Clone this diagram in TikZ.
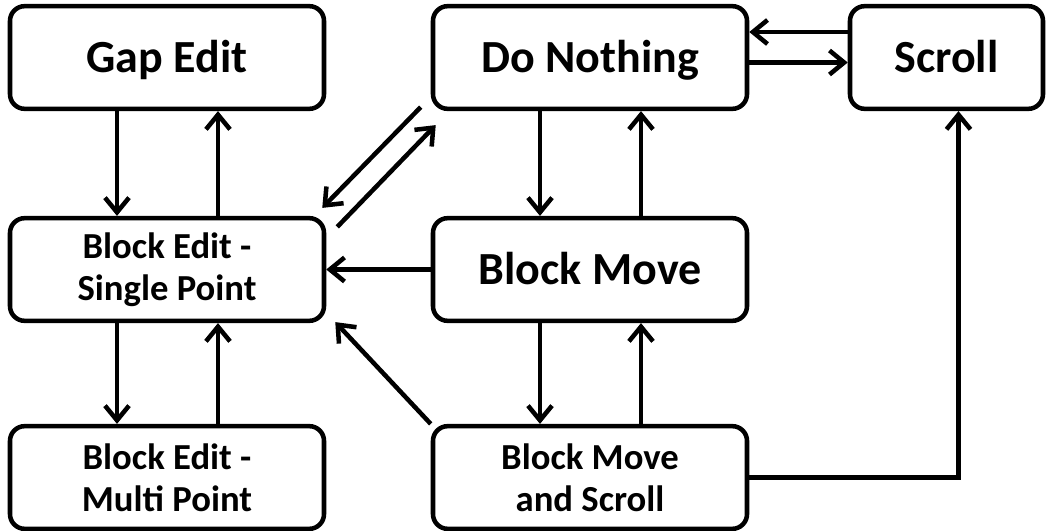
\documentclass[tikz,border=0pt]{standalone}
\usepackage{fontspec}
\setmainfont{Carlito}
\usetikzlibrary{arrows.meta,calc}
\begin{document}
\begin{tikzpicture}[x=0.75pt,y=-0.75pt,
  box/.style={draw, line width=3.4pt, rounded corners=11pt, minimum width=235.5pt, minimum height=77pt, inner sep=0pt, align=center, font=\bfseries\fontsize{34.5}{40}\selectfont},
  one/.style={text height=22pt, text depth=0pt},
  small/.style={font=\bfseries\fontsize{27.5}{31.5}\selectfont},
  conn/.style={line width=3.4pt, -{Straight Barb[length=11pt,width=18pt]}}]
\useasboundingbox (0,0) rectangle (1050,531);
\node[box, one] (GE) at (167,57.5) {Gap Edit};
\node[box, one] (DN) at (590,57.5) {Do Nothing};
\node[box, one, minimum width=144.75pt] (SC) at (946.5,57.5) {Scroll};
\node[box, small] (BES) at (167,269.5) {Block Edit -\\Single Point};
\node[box, one] (BM) at (590,269.5) {Block Move};
\node[box, small] (BEM) at (167,477.5) {Block Edit -\\Multi Point};
\node[box, small] (BMS) at (590,477.5) {Block Move\\and Scroll};
% vertical pairs
\draw[conn] ($(GE.south)+(-50,0)$) -- ($(BES.north)+(-50,0)$);
\draw[conn] ($(BES.north)+(51,0)$) -- ($(GE.south)+(51,0)$);
\draw[conn] ($(BES.south)+(-50,0)$) -- ($(BEM.north)+(-50,0)$);
\draw[conn] ($(BEM.north)+(51,0)$) -- ($(BES.south)+(51,0)$);
\draw[conn] ($(DN.south)+(-50,0)$) -- ($(BM.north)+(-50,0)$);
\draw[conn] ($(BM.north)+(51,0)$) -- ($(DN.south)+(51,0)$);
\draw[conn] ($(BM.south)+(-50,0)$) -- ($(BMS.north)+(-50,0)$);
\draw[conn] ($(BMS.north)+(51,0)$) -- ($(BM.south)+(51,0)$);
% Do Nothing <-> Scroll
\draw[conn] ($(SC.west)+(0,-25.5)$) -- ($(DN.east)+(0,-25.5)$);
\draw[conn] ($(DN.east)+(0,5)$) -- ($(SC.west)+(0,5)$);
% into Block Edit - Single Point
\draw[conn] (BM.west) -- (BES.east);
\draw[conn] (BMS.north west) -- ($(BES.south east)+(9,-1)$);
\draw[conn] ($(DN.south west)+(-10,-4)$) -- ($(BES.north east)+(-4,-8)$);
\draw[conn] ($(BES.north east)+(11,11)$) -- ($(DN.south west)+(5,14)$);
% Block Move and Scroll -> Scroll
\draw[conn] (BMS.east) -| ($(SC.south)+(12,0)$);
\end{tikzpicture}
\end{document}
